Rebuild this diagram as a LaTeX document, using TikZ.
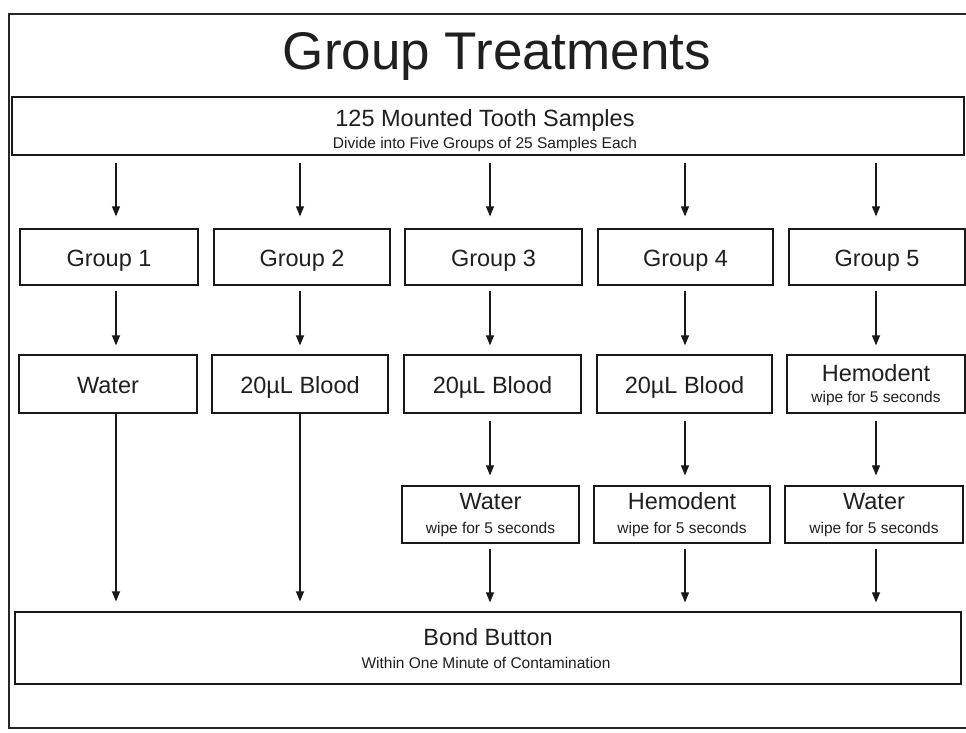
\documentclass[tikz,border=0pt]{standalone}
\usepackage{fontspec}
\setmainfont{Liberation Sans}
\usetikzlibrary{arrows.meta,calc}
\tikzset{
  box/.style={draw=black!90, line width=1.2pt, inner sep=0pt, anchor=center},
  main/.style={anchor=base, inner sep=0pt, text=black!88, font=\fontsize{23.5}{26}\selectfont},
  sub/.style={anchor=base, inner sep=0pt, text=black!88, font=\fontsize{15.5}{17}\selectfont},
  arr/.style={draw=black!90, line width=1.1pt, -{Triangle[length=10pt,width=8pt]}},
  frame/.style={draw=black!85, line width=1.2pt},
}
\begin{document}
\begin{tikzpicture}[x=1pt,y=-1pt]
\useasboundingbox (0,0) rectangle (966,733);
% outer frame
\draw[frame] (970,14) -- (9,14) -- (9,728) -- (970,728);
% title
\node[anchor=base, inner sep=0pt, text=black!88, font=\fontsize{53}{58}\selectfont] (title) at (497,70) {Group Treatments};
% column coordinates for arrows
\coordinate (c1) at (116,0);
\coordinate (c2) at (300,0);
\coordinate (c3) at (490,0);
\coordinate (c4) at (685,0);
\coordinate (c5) at (876,0);
% top box
\node[box, minimum width=952, minimum height=58] (top) at (488,126) {};
\node[main] (topt) at ($(top.north)+(-3,30)$) {125 Mounted Tooth Samples};
\node[sub] (tops) at ($(top.north)+(-3,52)$) {Divide into Five Groups of 25 Samples Each};
% group row
\node[box, minimum width=178, minimum height=56] (g1) at (109,257) {};
\node[box, minimum width=176, minimum height=56] (g2) at (302,257) {};
\node[box, minimum width=177, minimum height=56] (g3) at (493.5,257) {};
\node[box, minimum width=175, minimum height=56] (g4) at (685.5,257) {};
\node[box, minimum width=176, minimum height=56] (g5) at (877,257) {};
\node[main] (g1t) at ($(g1.center)+(0,9)$) {Group 1};
\node[main] (g2t) at ($(g2.center)+(0,9)$) {Group 2};
\node[main] (g3t) at ($(g3.center)+(0,9)$) {Group 3};
\node[main] (g4t) at ($(g4.center)+(0,9)$) {Group 4};
\node[main] (g5t) at ($(g5.center)+(0,9)$) {Group 5};
% treatment row
\node[box, minimum width=178, minimum height=58] (t1) at (108,384) {};
\node[box, minimum width=176, minimum height=58] (t2) at (300,384) {};
\node[box, minimum width=177, minimum height=58] (t3) at (492.5,384) {};
\node[box, minimum width=175, minimum height=58] (t4) at (684.5,384) {};
\node[box, minimum width=178, minimum height=58] (t5) at (876,384) {};
\node[main] (t1t) at ($(t1.center)+(0,9)$) {Water};
\node[main] (t2t) at ($(t2.center)+(0,9)$) {20\textmu L Blood};
\node[main] (t3t) at ($(t3.center)+(0,9)$) {20\textmu L Blood};
\node[main] (t4t) at ($(t4.center)+(0,9)$) {20\textmu L Blood};
\node[main] (t5t) at ($(t5.north)+(0,27)$) {Hemodent};
\node[sub] (t5s) at ($(t5.north)+(0,48)$) {wipe for 5 seconds};
% second treatment row
\node[box, minimum width=177, minimum height=57] (u3) at (490.5,514.5) {};
\node[box, minimum width=176, minimum height=57] (u4) at (682,514.5) {};
\node[box, minimum width=178, minimum height=57] (u5) at (874,514.5) {};
\node[main] (u3t) at ($(u3.north)+(0,24)$) {Water};
\node[sub] (u3s) at ($(u3.north)+(0,48.5)$) {wipe for 5 seconds};
\node[main] (u4t) at ($(u4.north)+(0,24)$) {Hemodent};
\node[sub] (u4s) at ($(u4.north)+(0,48.5)$) {wipe for 5 seconds};
\node[main] (u5t) at ($(u5.north)+(0,24)$) {Water};
\node[sub] (u5s) at ($(u5.north)+(0,48.5)$) {wipe for 5 seconds};
% bond box
\node[box, minimum width=946, minimum height=72] (bond) at (488,648) {};
\node[main] (bondt) at ($(bond.north)+(0,34)$) {Bond Button};
\node[sub] (bonds) at ($(bond.north)+(-2,57)$) {Within One Minute of Contamination};
% arrows: top to groups
\foreach \i in {1,...,5}{
  \draw[arr, shorten <=7pt, shorten >=12pt] (top.south -| c\i) -- (g\i.north -| c\i);
  \draw[arr, shorten <=5pt, shorten >=9pt] (g\i.south -| c\i) -- (t\i.north -| c\i);
}
% groups 1,2 straight to bond
\draw[arr, shorten >=10pt] (t1.south -| c1) -- (bond.north -| c1);
\draw[arr, shorten >=10pt] (t2.south -| c2) -- (bond.north -| c2);
% groups 3-5 via second row
\foreach \i in {3,4,5}{
  \draw[arr, shorten <=7pt, shorten >=10pt] (t\i.south -| c\i) -- (u\i.north -| c\i);
  \draw[arr, shorten <=5pt, shorten >=9pt] (u\i.south -| c\i) -- (bond.north -| c\i);
}
\end{tikzpicture}
\end{document}
